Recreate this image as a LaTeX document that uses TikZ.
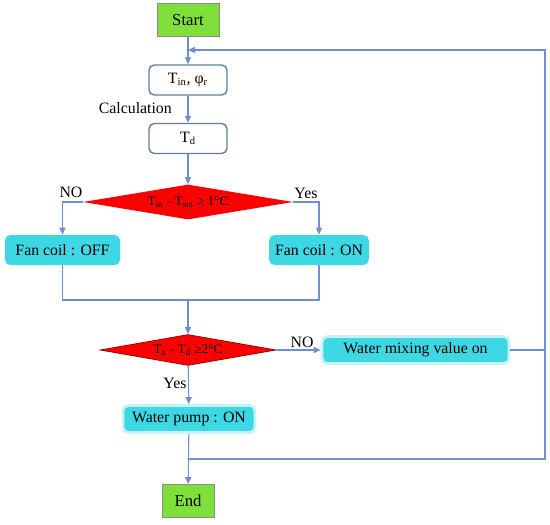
\documentclass[tikz,border=0pt]{standalone}
\usepackage{fontspec}
\setmainfont{Liberation Serif}
\usetikzlibrary{arrows.meta,shapes.geometric,positioning,calc}
\definecolor{flowline}{HTML}{6F8FD0}
\definecolor{startgreen}{HTML}{7FE03C}
\definecolor{coilcyan}{HTML}{3ED8E4}
\definecolor{boxedge}{HTML}{5F7E9C}

\begin{document}
\begin{tikzpicture}[
    term/.style={draw=black!45, fill=startgreen, minimum width=1.24cm, minimum height=0.66cm, font=\fontsize{9.5}{11}\selectfont},
    calc/.style={draw=boxedge, thick, rounded corners=3pt, fill=white, minimum width=1.56cm, minimum height=0.6cm, font=\fontsize{9}{11}\selectfont},
    coil/.style={fill=coilcyan, rounded corners=3pt, minimum height=0.6cm, font=\fontsize{9}{11}\selectfont},
    glow/.style={coil, draw=coilcyan!30, line width=1.5pt, minimum height=0.54cm},
    dec/.style={diamond, fill=red, inner sep=0pt, aspect=6, font=\fontsize{7.5}{9}\selectfont},
    arr/.style={-{Triangle[length=4pt, width=3.5pt]}, flowline, semithick},
    ln/.style={flowline, semithick},
    lbl/.style={font=\fontsize{9}{11}\selectfont}
]
\useasboundingbox (0,0) rectangle (11,-10.48);

\node[term] (start) at (3.76,-0.40) {Start};
\node[calc] (tin) at (3.76,-1.60) {T\textsubscript{in}, φ\textsubscript{r}};
\node[lbl, anchor=east] (calclbl) at (3.56,-2.16) {Calculation};
\node[calc] (td) at (3.76,-2.77) {T\textsubscript{d}};
\node[dec, minimum width=4.2cm, minimum height=0.7cm] (d1) at (3.76,-4.04) {T\textsubscript{in} - T\textsubscript{set} ≥ 1°C};
\node[lbl] (nolbl1) at (1.42,-3.84) {NO};
\node[lbl] (yeslbl1) at (6.12,-3.86) {Yes};
\node[coil, minimum width=2.3cm] (off) at (1.25,-5.0) {Fan coil : OFF};
\node[coil, minimum width=1.84cm] (on) at (6.38,-5.0) {Fan coil : ON};
\node[dec, draw=red!55!black, minimum width=3.52cm, minimum height=0.62cm] (d2) at (3.76,-7.0) {T\textsubscript{a} - T\textsubscript{d} ≥2°C};
\node[lbl] (nolbl2) at (6.04,-6.84) {NO};
\node[glow, minimum width=3.74cm] (wmix) at (8.31,-7.0) {Water mixing value on};
\node[lbl] (yeslbl2) at (3.5,-7.66) {Yes};
\node[glow, minimum width=2.64cm] (pump) at (3.78,-8.38) {Water pump : ON};
\node[term, minimum width=1.04cm] (end) at (3.76,-10.02) {End};

\coordinate (loop) at (3.76,-1.0);
\coordinate (rt) at (10.9,-1.0);
\coordinate (rb) at (10.9,-9.18);
\coordinate (jb) at (3.76,-9.18);
\coordinate (merge) at (3.76,-6.0);

\draw[arr] (start) -- (tin);
\draw[arr] (tin) -- (td);
\draw[arr] (td) -- (d1);
\draw[arr] (d1.west) -| (off.north);
\draw[arr] (d1.east) -| (on.north);
\draw[ln] (off.south) |- (merge) -| (on.south);
\draw[arr] (merge) -- (d2);
\draw[arr] (d2) -- (wmix);
\draw[arr] (d2) -- (pump);
\draw[arr] (pump) -- (end);
\draw[ln] (wmix.east) -- (wmix.east -| rt);
\draw[arr] (jb) -- (rb) -- (rt) -- (loop);
\end{tikzpicture}
\end{document}
